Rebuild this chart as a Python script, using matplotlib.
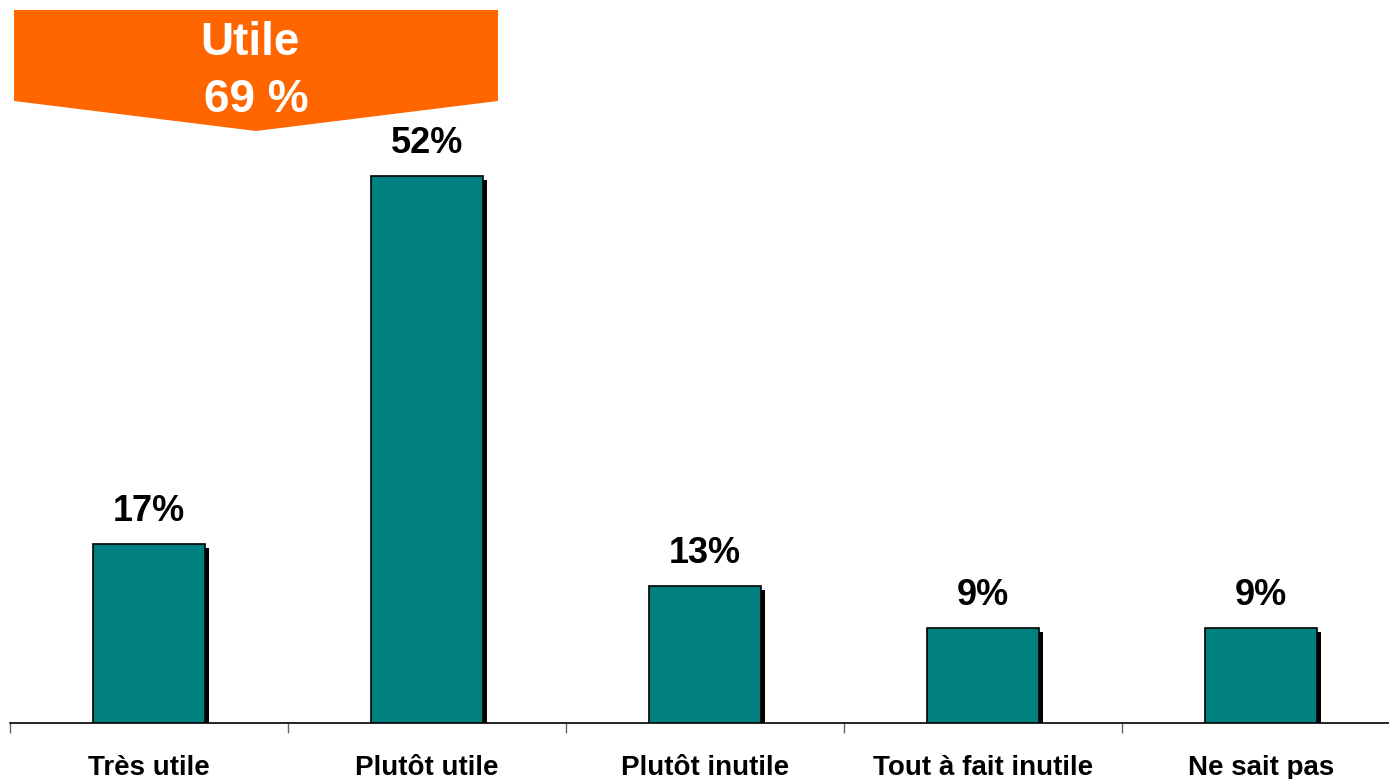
import matplotlib
matplotlib.use("Agg")
import matplotlib.pyplot as plt
from matplotlib.patches import Polygon

categories = ["Très utile", "Plutôt utile", "Plutôt inutile", "Tout à fait inutile", "Ne sait pas"]
values = [17, 52, 13, 9, 9]
value_labels = ["17%", "52%", "13%", "9%", "9%"]
banner_title = "Utile"
banner_value = "69 %"

plt.rcParams['font.family'] = ['Liberation Sans', 'DejaVu Sans']

W, H = 1389, 779
fig = plt.figure(figsize=(W / 100, H / 100), dpi=100)
fig.patch.set_facecolor("white")

px_per_unit = 10.52
ymax = 60
ax = fig.add_axes([10 / W, 56 / H, 1390 / W, ymax * px_per_unit / H])
ax.set_xlim(0, len(categories))
ax.set_ylim(0, ymax)

xs = [i + 0.5 for i in range(len(categories))]
bw = 0.403
dx = 4 / 278
dy = 4 / px_per_unit

# shadows
ax.bar([x + dx for x in xs], [v - dy for v in values], width=bw, color="black", zorder=2)
# bars
ax.bar(xs, values, width=bw, color="#008080", edgecolor="black", linewidth=1.2, zorder=3)

for x, v, lab in zip(xs, values, value_labels):
    ax.annotate(lab, (x, v), xytext=(0, 11), textcoords="offset points",
                ha="center", va="bottom", fontsize=26, fontweight="bold", color="black")

for s in ["top", "right", "left"]:
    ax.spines[s].set_visible(False)
ax.spines["bottom"].set_linewidth(1.2)
ax.set_yticks([])
ax.set_xticks(range(len(categories) + 1))
ax.set_xticklabels([])
ax.tick_params(axis="x", length=7, width=1, color="#666666", direction="out")
for x, c in zip(xs, categories):
    ax.text(x, -3.0, c, ha="center", va="top", fontsize=20, fontweight="bold",
            transform=ax.transData, clip_on=False)

# banner
poly = Polygon([(14, H - 10), (498, H - 10), (498, H - 101), (256, H - 131), (14, H - 101)],
               closed=True, facecolor="#FF6600", edgecolor="none", transform=None, zorder=5)
fig.patches.append(poly)
fig.text(250 / W, 1 - 43 / H, banner_title, ha="center", va="center", fontsize=33,
         fontweight="bold", color="white", zorder=6)
fig.text(256 / W, 1 - 100 / H, banner_value, ha="center", va="center", fontsize=33,
         fontweight="bold", color="white", zorder=6)

fig.savefig("out.png", dpi=100, facecolor="white")
